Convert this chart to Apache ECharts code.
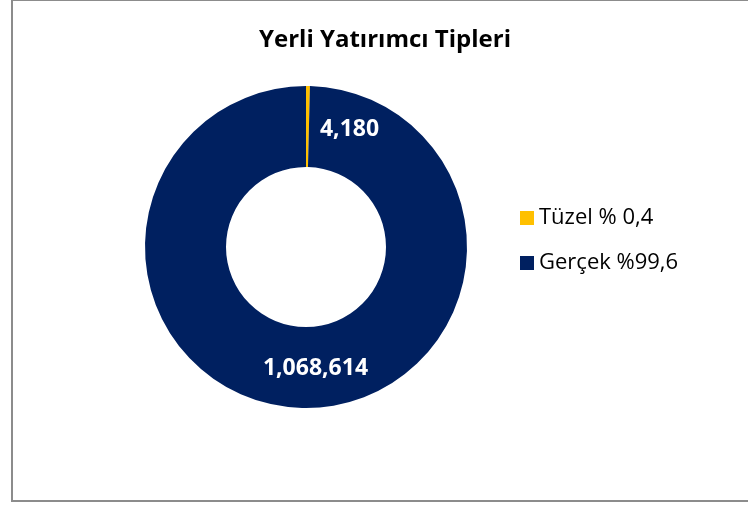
<!DOCTYPE html>
<html>
<head>
<meta charset="utf-8">
<script src="https://cdn.jsdelivr.net/npm/echarts@6/dist/echarts.min.js"></script>
<style>
  html, body { margin: 0; padding: 0; background: #fff; }
  #frame { position: absolute; left: 11px; top: 0; width: 760px; height: 499px;
           border: 1px solid #8c8c8c; border-bottom: 2px solid #8c8c8c; border-left: 2px solid #8c8c8c; box-sizing: content-box; }
  #chart { position: absolute; left: 0; top: 0; width: 748px; height: 506px; }
</style>
</head>
<body>
<div id="frame"></div>
<div id="chart"></div>
<script>
var categories = ['Tüzel % 0,4', 'Gerçek %99,6']
var values = [4180, 1068614]
var colors = ['#FFC000', '#002060']

var chart = echarts.init(document.getElementById('chart'))
var option = {
  title: {
    text: 'Yerli Yatırımcı Tipleri',
    left: 380,
    top: 23,
    textAlign: 'center',
    textStyle: { fontFamily: 'Open Sans', fontWeight: 'bold', fontSize: 24, color: '#000' }
  },
  legend: {
    orient: 'vertical',
    left: 520,
    top: 207,
    padding: 0,
    itemWidth: 14,
    itemHeight: 14,
    itemGap: 23,
    icon: 'rect',
    data: categories,
    textStyle: { fontFamily: 'Open Sans', fontSize: 22, color: '#000', padding: [0, 0, 0, 0] }
  },
  series: [
    {
      type: 'pie',
      center: [306, 247],
      radius: [80, 161],
      startAngle: 90,
      clockwise: true,
      silent: true,
      avoidLabelOverlap: false,
      itemStyle: { borderWidth: 0 },
      label: {
        show: true,
        position: 'inside',
        color: '#fff',
        fontFamily: 'Open Sans',
        fontWeight: 'bold',
        fontSize: 23,
        formatter: function(p) { return p.value.toLocaleString('en-US') }
      },
      labelLine: { show: false },
      data: categories.map(function(name, i) {
        var d = { name: name, value: values[i], itemStyle: { color: colors[i] } }
        d.label = i === 0 ? { offset: [42, 6] } : { offset: [11, -2] }
        return d
      })
    }
  ]
}
chart.setOption(option)
</script>
</body>
</html>
